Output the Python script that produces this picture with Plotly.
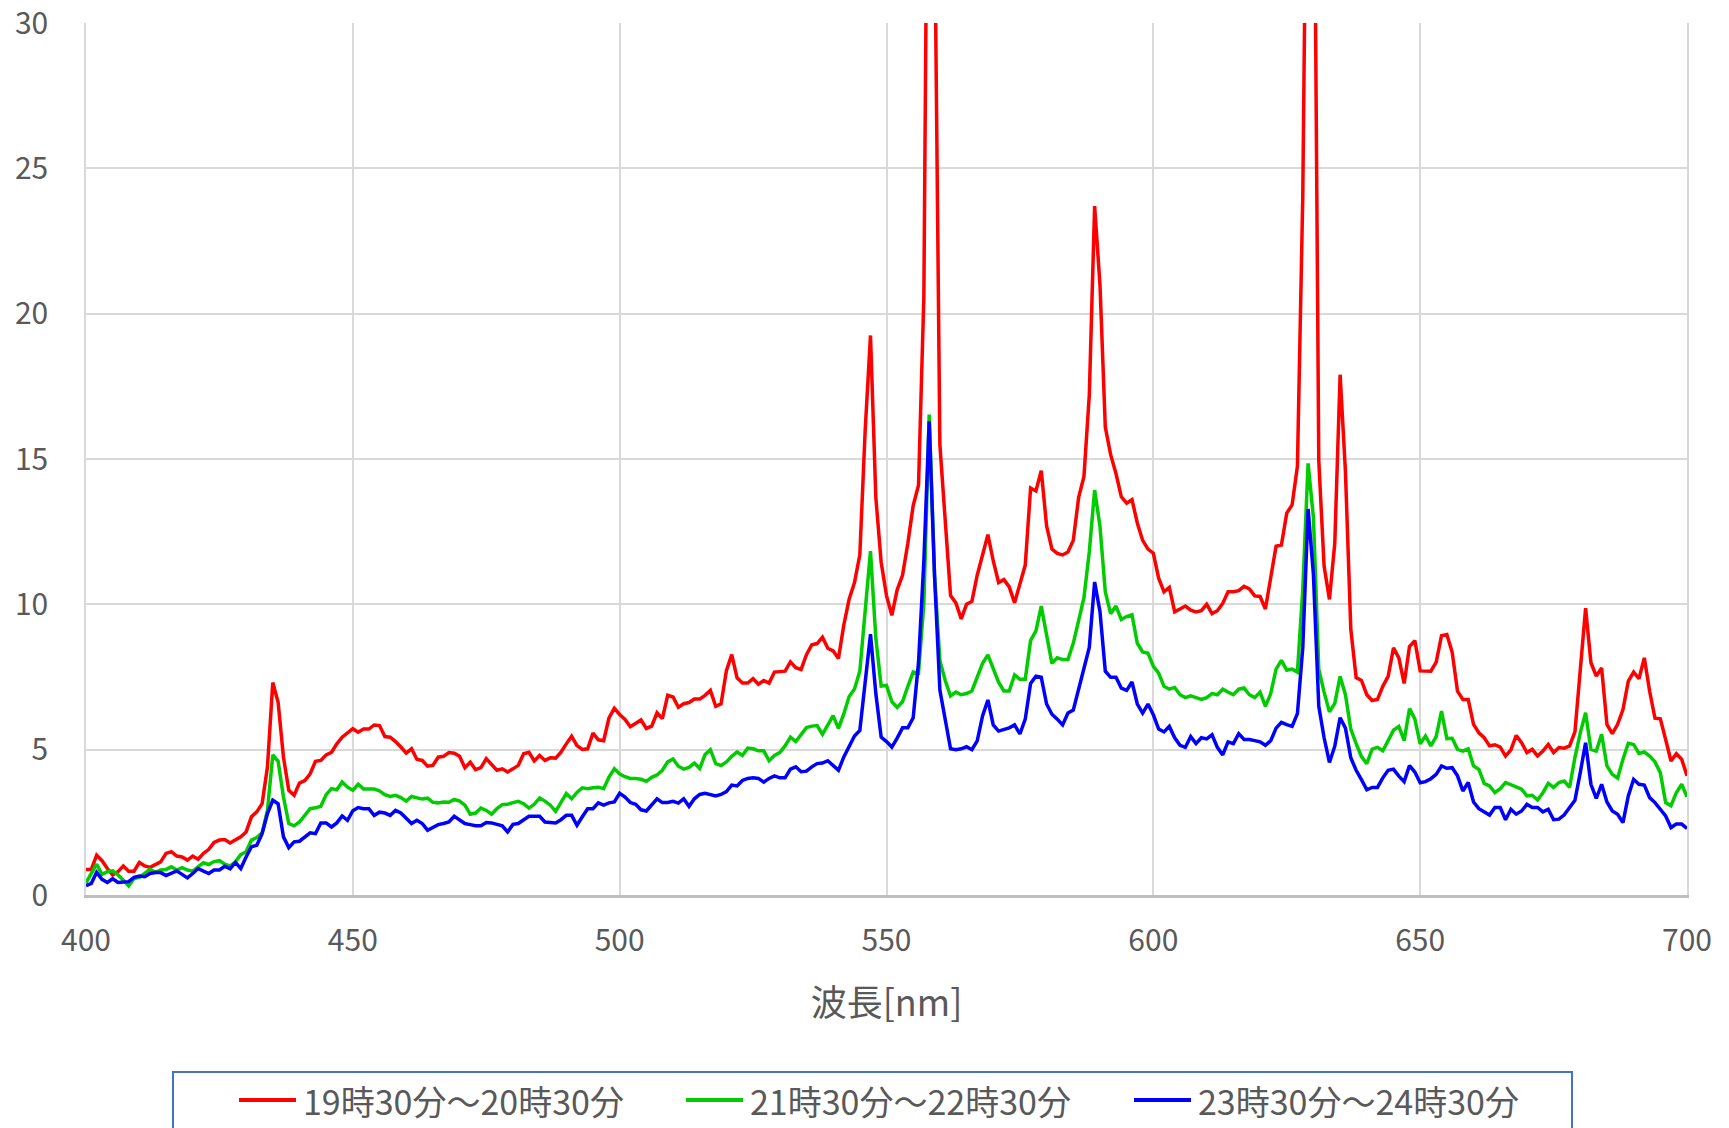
import plotly.graph_objects as go

# Spectral irradiance, sampled every 1 nm from 400 nm to 700 nm
wavelength_nm = list(range(400, 701))

series_names = ["19時30分～20時30分", "21時30分～22時30分", "23時30分～24時30分"]
series_colors = ["#FF0000", "#00CC00", "#0000FF"]

x_ticks = [400, 450, 500, 550, 600, 650, 700]
y_ticks = [0, 5, 10, 15, 20, 25, 30]
x_title = "波長[nm]"

evening_1930 = [
    0.88, 0.88, 1.37, 1.18, 0.91, 0.69, 0.80, 1.00, 0.82, 0.82,
    1.12, 1.00, 0.95, 1.05, 1.14, 1.43, 1.49, 1.34, 1.31, 1.20,
    1.34, 1.23, 1.43, 1.57, 1.81, 1.89, 1.91, 1.79, 1.89, 2.00,
    2.17, 2.69, 2.86, 3.14, 4.40, 7.31, 6.63, 4.74, 3.60, 3.43,
    3.85, 3.94, 4.17, 4.60, 4.63, 4.82, 4.91, 5.20, 5.43, 5.57,
    5.72, 5.60, 5.71, 5.71, 5.85, 5.83, 5.45, 5.43, 5.28, 5.09,
    4.88, 5.03, 4.67, 4.63, 4.43, 4.46, 4.74, 4.77, 4.90, 4.88,
    4.77, 4.38, 4.57, 4.31, 4.38, 4.69, 4.51, 4.29, 4.34, 4.23,
    4.34, 4.46, 4.86, 4.91, 4.61, 4.80, 4.63, 4.72, 4.71, 4.91,
    5.20, 5.46, 5.14, 5.01, 5.03, 5.57, 5.34, 5.31, 6.09, 6.42,
    6.21, 6.04, 5.79, 5.89, 6.02, 5.73, 5.81, 6.27, 6.07, 6.87,
    6.81, 6.46, 6.58, 6.62, 6.74, 6.74, 6.87, 7.04, 6.49, 6.58,
    7.72, 8.27, 7.47, 7.29, 7.29, 7.44, 7.25, 7.38, 7.29, 7.67,
    7.67, 7.70, 8.02, 7.82, 7.76, 8.27, 8.61, 8.65, 8.87, 8.49,
    8.40, 8.14, 9.29, 10.18, 10.75, 11.70, 15.97, 19.25, 13.68, 11.45,
    10.30, 9.62, 10.50, 11.00, 12.10, 13.40, 14.10, 20.60, 45.00, 34.00,
    15.50, 12.90, 10.30, 10.05, 9.50, 10.00, 10.10, 11.00, 11.70, 12.40,
    11.50, 10.75, 10.85, 10.60, 10.05, 10.70, 11.35, 14.00, 13.90, 14.60,
    12.70, 11.90, 11.75, 11.70, 11.80, 12.20, 13.67, 14.40, 17.20, 23.70,
    21.00, 16.10, 15.15, 14.50, 13.70, 13.48, 13.60, 12.80, 12.20, 11.90,
    11.76, 10.90, 10.43, 10.58, 9.74, 9.84, 9.94, 9.80, 9.74, 9.78,
    10.00, 9.68, 9.78, 10.03, 10.43, 10.43, 10.47, 10.62, 10.53, 10.29,
    10.27, 9.84, 10.92, 12.00, 12.04, 13.14, 13.42, 14.75, 24.00, 42.00,
    40.00, 14.95, 11.31, 10.17, 12.10, 17.90, 14.56, 9.15, 7.48, 7.38,
    6.89, 6.69, 6.73, 7.18, 7.52, 8.50, 8.16, 7.28, 8.55, 8.75,
    7.71, 7.72, 7.70, 8.01, 8.92, 8.96, 8.35, 7.01, 6.73, 6.73,
    5.87, 5.58, 5.41, 5.13, 5.17, 5.09, 4.78, 4.99, 5.49, 5.24,
    4.90, 5.01, 4.78, 4.95, 5.18, 4.90, 5.07, 5.05, 5.13, 5.61,
    7.64, 9.87, 7.99, 7.53, 7.81, 5.87, 5.55, 5.87, 6.38, 7.36,
    7.67, 7.44, 8.16, 7.01, 6.08, 6.06, 5.35, 4.61, 4.86, 4.67,
    4.10,
]

evening_2130 = [
    0.42, 0.74, 1.06, 0.71, 0.80, 0.83, 0.69, 0.51, 0.31, 0.57,
    0.61, 0.74, 0.88, 0.78, 0.86, 0.88, 0.97, 0.86, 0.94, 0.86,
    0.82, 0.97, 1.11, 1.05, 1.15, 1.18, 1.06, 1.00, 1.14, 1.39,
    1.49, 1.89, 1.98, 2.14, 2.91, 4.82, 4.60, 3.37, 2.46, 2.38,
    2.51, 2.74, 2.97, 3.00, 3.05, 3.45, 3.66, 3.62, 3.89, 3.71,
    3.60, 3.81, 3.65, 3.65, 3.65, 3.58, 3.45, 3.39, 3.43, 3.35,
    3.23, 3.39, 3.35, 3.30, 3.33, 3.19, 3.17, 3.20, 3.19, 3.29,
    3.23, 3.09, 2.78, 2.82, 2.99, 2.91, 2.78, 2.97, 3.11, 3.12,
    3.18, 3.22, 3.14, 2.99, 3.12, 3.34, 3.23, 3.09, 2.88, 3.17,
    3.49, 3.31, 3.53, 3.69, 3.66, 3.69, 3.71, 3.66, 4.06, 4.34,
    4.16, 4.07, 4.01, 4.01, 3.98, 3.91, 4.05, 4.13, 4.29, 4.58,
    4.68, 4.43, 4.33, 4.39, 4.54, 4.35, 4.83, 5.00, 4.52, 4.45,
    4.58, 4.77, 4.92, 4.80, 5.05, 5.03, 4.96, 4.96, 4.62, 4.80,
    4.90, 5.13, 5.43, 5.28, 5.53, 5.76, 5.81, 5.83, 5.53, 5.85,
    6.17, 5.73, 6.23, 6.83, 7.09, 7.70, 9.73, 11.83, 8.84, 7.19,
    7.21, 6.65, 6.45, 6.65, 7.18, 7.67, 7.63, 10.03, 16.53, 11.00,
    8.07, 7.38, 6.85, 6.98, 6.89, 6.93, 7.02, 7.48, 7.97, 8.26,
    7.77, 7.32, 7.02, 7.02, 7.57, 7.42, 7.42, 8.75, 9.09, 9.94,
    8.95, 7.97, 8.16, 8.10, 8.10, 8.66, 9.44, 10.23, 11.80, 13.93,
    12.69, 10.43, 9.68, 9.94, 9.48, 9.58, 9.64, 8.66, 8.36, 8.32,
    7.87, 7.63, 7.18, 7.08, 7.14, 6.89, 6.79, 6.85, 6.79, 6.73,
    6.79, 6.93, 6.89, 7.08, 6.98, 6.89, 7.08, 7.12, 6.89, 6.79,
    6.98, 6.49, 6.93, 7.77, 8.07, 7.73, 7.77, 7.67, 10.50, 14.85,
    12.98, 7.77, 6.98, 6.30, 6.59, 7.52, 6.89, 5.71, 5.21, 4.76,
    4.52, 5.02, 5.08, 4.96, 5.31, 5.67, 5.80, 5.31, 6.41, 6.06,
    5.20, 5.47, 5.13, 5.45, 6.33, 5.38, 5.39, 5.01, 4.95, 5.03,
    4.44, 4.32, 3.84, 3.75, 3.52, 3.66, 3.87, 3.79, 3.72, 3.64,
    3.41, 3.43, 3.27, 3.52, 3.84, 3.70, 3.87, 3.92, 3.70, 4.73,
    5.58, 6.27, 5.01, 4.95, 5.53, 4.44, 4.15, 4.02, 4.67, 5.22,
    5.18, 4.87, 4.92, 4.78, 4.58, 4.21, 3.18, 3.07, 3.52, 3.81,
    3.38,
]

evening_2330 = [
    0.32, 0.40, 0.78, 0.54, 0.43, 0.56, 0.43, 0.43, 0.46, 0.61,
    0.65, 0.63, 0.74, 0.77, 0.77, 0.67, 0.74, 0.83, 0.71, 0.59,
    0.74, 0.91, 0.82, 0.74, 0.86, 0.86, 0.99, 0.90, 1.12, 0.91,
    1.31, 1.66, 1.71, 2.11, 2.80, 3.26, 3.14, 2.00, 1.63, 1.83,
    1.85, 2.00, 2.14, 2.11, 2.48, 2.48, 2.34, 2.48, 2.72, 2.57,
    2.90, 3.01, 2.97, 2.97, 2.74, 2.85, 2.82, 2.74, 2.91, 2.82,
    2.63, 2.46, 2.57, 2.46, 2.23, 2.31, 2.42, 2.46, 2.51, 2.71,
    2.57, 2.46, 2.42, 2.38, 2.38, 2.49, 2.48, 2.43, 2.38, 2.17,
    2.43, 2.46, 2.59, 2.71, 2.71, 2.71, 2.51, 2.51, 2.48, 2.59,
    2.74, 2.74, 2.40, 2.69, 2.97, 2.97, 3.17, 3.09, 3.17, 3.20,
    3.50, 3.37, 3.18, 3.12, 2.93, 2.89, 3.12, 3.31, 3.18, 3.18,
    3.22, 3.16, 3.31, 3.05, 3.31, 3.46, 3.50, 3.44, 3.41, 3.46,
    3.56, 3.78, 3.75, 3.94, 4.01, 4.03, 4.01, 3.88, 4.01, 4.10,
    4.03, 4.03, 4.33, 4.41, 4.24, 4.26, 4.41, 4.52, 4.54, 4.62,
    4.45, 4.29, 4.75, 5.09, 5.47, 5.66, 7.19, 8.97, 6.93, 5.43,
    5.28, 5.09, 5.40, 5.75, 5.75, 6.10, 8.00, 11.50, 16.30, 11.00,
    7.05, 6.00, 5.03, 5.00, 5.03, 5.10, 5.00, 5.30, 6.16, 6.71,
    5.85, 5.64, 5.68, 5.75, 5.85, 5.54, 6.05, 7.28, 7.53, 7.49,
    6.57, 6.22, 6.05, 5.85, 6.26, 6.36, 7.08, 7.80, 8.52, 10.77,
    9.75, 7.70, 7.49, 7.49, 7.12, 7.04, 7.33, 6.57, 6.26, 6.57,
    6.20, 5.71, 5.61, 5.80, 5.41, 5.15, 5.08, 5.45, 5.21, 5.41,
    5.37, 5.51, 5.08, 4.82, 5.27, 5.21, 5.55, 5.35, 5.35, 5.31,
    5.27, 5.15, 5.31, 5.74, 5.94, 5.86, 5.80, 6.24, 8.50, 13.28,
    11.02, 6.49, 5.41, 4.56, 5.12, 6.10, 5.74, 4.72, 4.29, 3.97,
    3.62, 3.70, 3.70, 4.03, 4.29, 4.33, 4.09, 3.90, 4.45, 4.23,
    3.86, 3.90, 4.00, 4.15, 4.44, 4.36, 4.38, 4.10, 3.58, 3.87,
    3.20, 2.97, 2.86, 2.75, 3.01, 3.01, 2.59, 2.95, 2.78, 2.89,
    3.12, 3.01, 3.01, 2.86, 2.95, 2.59, 2.61, 2.76, 3.01, 3.26,
    4.21, 5.24, 3.81, 3.32, 3.81, 3.20, 2.89, 2.78, 2.49, 3.41,
    3.98, 3.81, 3.78, 3.35, 3.18, 2.95, 2.72, 2.32, 2.44, 2.44,
    2.29,
]

series_values = [evening_1930, evening_2130, evening_2330]

# Canvas and plot-area geometry (pixels)
W, H = 1729, 1128
ML, MR, MT, MB = 86, 42, 23, 233
PW, PH = W - ML - MR, H - MT - MB

TEXT = "#595959"
GRID = "#D9D9D9"
FONT = "Noto Sans CJK JP, Noto Sans, sans-serif"


def px_x(px):
    return (px - ML) / PW


def px_y(py):
    return (H - MB - py) / PH


fig = go.Figure()
for name, color, values in zip(series_names, series_colors, series_values):
    fig.add_trace(go.Scatter(
        x=wavelength_nm, y=values, name=name, mode="lines",
        line=dict(color=color, width=3.5),
        showlegend=False,
    ))

# Legend: framed box along the bottom edge with one line sample per series
legend_x = [239, 686, 1134]
legend_y = 1100
shapes = [dict(
    type="rect", xref="paper", yref="paper",
    x0=px_x(173), x1=px_x(1572), y0=px_y(1072), y1=px_y(1140),
    line=dict(color="#4472C4", width=2), fillcolor="rgba(0,0,0,0)",
    layer="above",
)]
annotations = []
for name, color, lx in zip(series_names, series_colors, legend_x):
    shapes.append(dict(
        type="line", xref="paper", yref="paper",
        x0=px_x(lx), x1=px_x(lx + 57), y0=px_y(legend_y), y1=px_y(legend_y),
        line=dict(color=color, width=4),
    ))
    annotations.append(dict(
        xref="paper", yref="paper", x=px_x(lx + 62), y=px_y(legend_y),
        xanchor="left", yanchor="middle", showarrow=False, text=name,
        font=dict(family=FONT, size=34, color=TEXT),
    ))

fig.update_layout(
    width=W, height=H,
    margin=dict(l=ML, r=MR, t=MT, b=MB, autoexpand=False),
    paper_bgcolor="white", plot_bgcolor="white",
    font=dict(family=FONT, color=TEXT),
    shapes=shapes, annotations=annotations,
    showlegend=False,
)
fig.update_xaxes(
    range=[400, 700], tickvals=x_ticks, ticktext=[str(v) for v in x_ticks],
    showgrid=True, gridcolor=GRID, gridwidth=1.5,
    showline=True, linecolor="#BFBFBF", linewidth=2.5,
    ticks="", ticklabelstandoff=17, zeroline=False,
    ticklabeloverflow="allow",
    tickfont=dict(family=FONT, size=30, color=TEXT),
    title=dict(text=x_title, font=dict(family=FONT, size=36, color=TEXT), standoff=33),
)
fig.update_yaxes(
    range=[0, 30], tickvals=y_ticks,
    showgrid=True, gridcolor=GRID, gridwidth=1.5,
    showline=True, linecolor=GRID, linewidth=1.5, mirror=True,
    ticks="", ticklabelstandoff=30, zeroline=False,
    ticklabeloverflow="allow",
    tickfont=dict(family=FONT, size=30, color=TEXT),
)

fig.write_html("out.html")
